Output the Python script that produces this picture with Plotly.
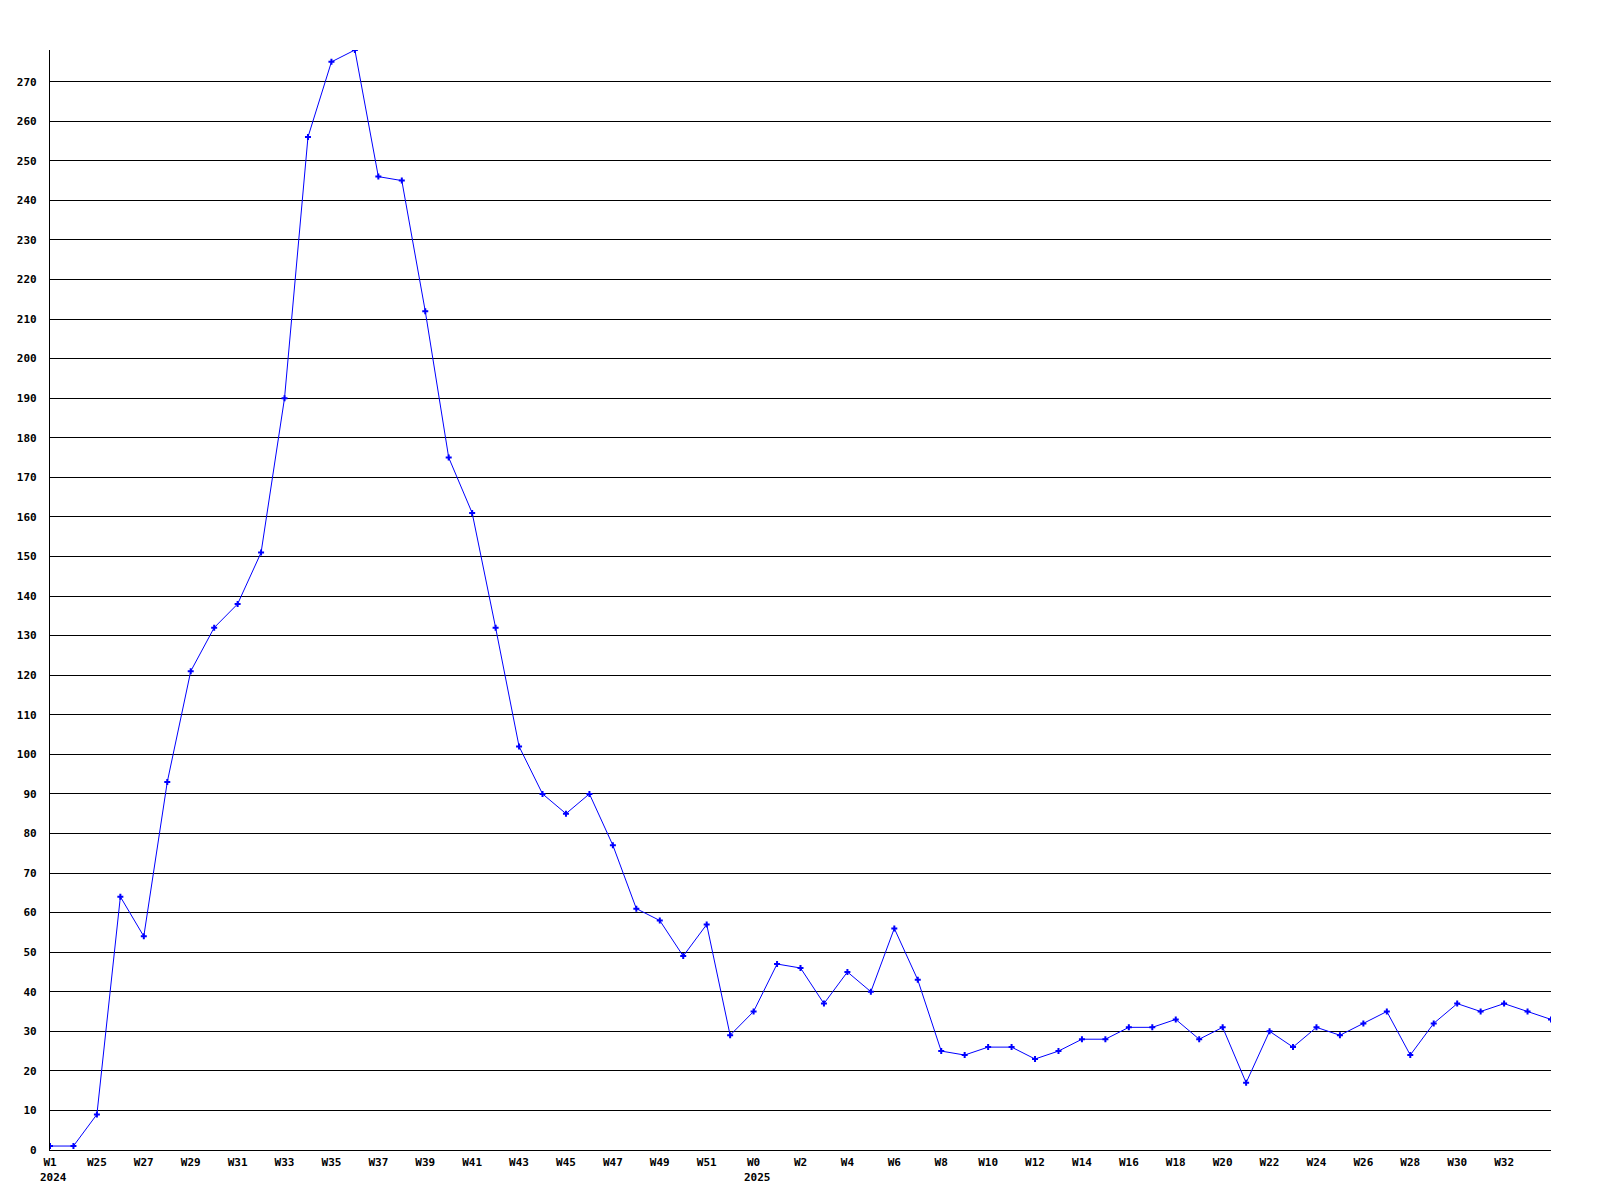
import plotly.graph_objects as go

week_labels = ["W1", "W24", "W25", "W26", "W27", "W28", "W29", "W30", "W31", "W32",
               "W33", "W34", "W35", "W36", "W37", "W38", "W39", "W40", "W41", "W42",
               "W43", "W44", "W45", "W46", "W47", "W48", "W49", "W50", "W51", "W52",
               "W0", "W1", "W2", "W3", "W4", "W5", "W6", "W7", "W8", "W9",
               "W10", "W11", "W12", "W13", "W14", "W15", "W16", "W17", "W18", "W19",
               "W20", "W21", "W22", "W23", "W24", "W25", "W26", "W27", "W28", "W29",
               "W30", "W31", "W32", "W33", "W34"]
values = [1, 1, 9, 64, 54, 93, 121, 132, 138, 151,
          190, 256, 275, 278, 246, 245, 212, 175, 161, 132,
          102, 90, 85, 90, 77, 61, 58, 49, 57, 29,
          35, 47, 46, 37, 45, 40, 56, 43, 25, 24,
          26, 26, 23, 25, 28, 28, 31, 31, 33, 28,
          31, 17, 30, 26, 31, 29, 32, 35, 24, 32,
          37, 35, 37, 35, 33]
year_labels = {0: "2024", 30: "2025"}
y_ticks = list(range(0, 280, 10))

x_idx = list(range(len(values)))
tick_idx = x_idx[:-1:2]
tick_text = [week_labels[i] for i in tick_idx]

font = dict(family="DejaVu Sans Mono", size=11, color="black", weight="bold")

fig = go.Figure()
fig.add_trace(go.Scatter(
    x=x_idx, y=values, mode="lines+markers",
    line=dict(color="#0000ff", width=1),
    marker=dict(symbol="cross", size=5, color="#0000ff", line=dict(width=0)),
    showlegend=False, hoverinfo="skip",
))

for i, yr in year_labels.items():
    fig.add_annotation(x=i, y=0, xref="x", yref="paper", text=yr,
                       showarrow=False, xanchor="left", yanchor="top",
                       xshift=-12, yshift=-19, font=font)

fig.update_layout(
    width=1600, height=1200,
    margin=dict(l=42, r=57, t=42, b=58),
    paper_bgcolor="white", plot_bgcolor="white",
    font=font,
)
fig.update_xaxes(
    range=[0, len(values) - 1], tickmode="array", tickvals=tick_idx, ticktext=tick_text,
    showgrid=False, zeroline=False, showline=True, linecolor="black", linewidth=1.2,
    ticks="", tickfont=font, ticklabelstandoff=2, automargin=False,
)
fig.update_yaxes(
    range=[0, max(values)], tickmode="array", tickvals=y_ticks,
    showgrid=True, gridcolor="black", gridwidth=1.2, zeroline=False,
    showline=True, linecolor="black", linewidth=1.2,
    ticks="", tickfont=font, ticklabelstandoff=10, automargin=False,
)

fig.write_html("out.html")
